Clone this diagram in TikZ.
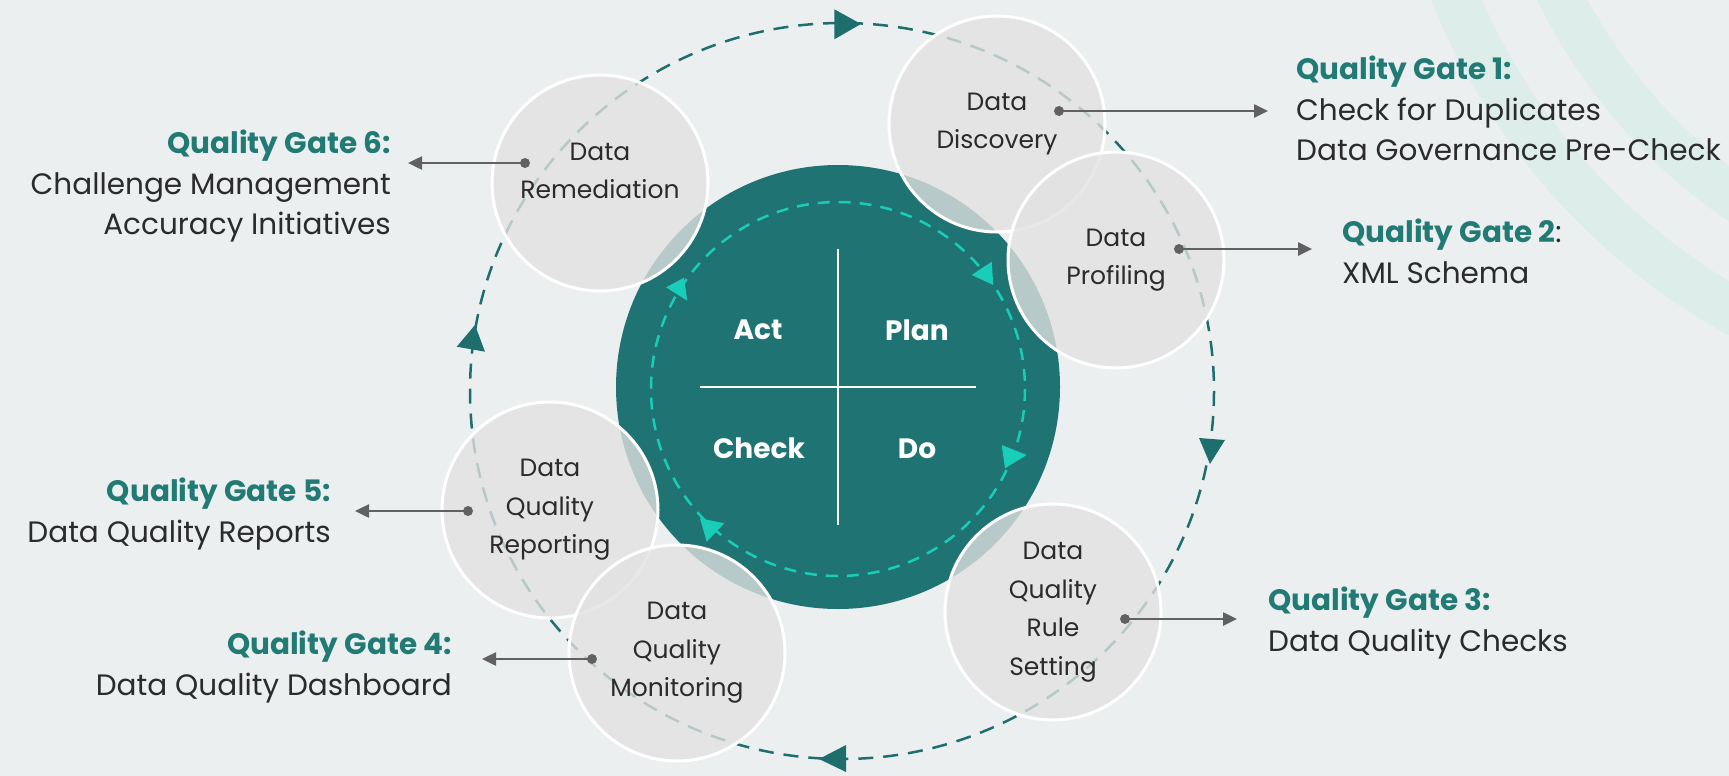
\documentclass[tikz,border=0pt]{standalone}
\usepackage{fontspec}
\setmainfont{Poppins}
\usetikzlibrary{arrows.meta,positioning}
\definecolor{bgcol}{HTML}{ECEFF0}
\definecolor{mintcol}{HTML}{DDEDEA}
\definecolor{tealdisk}{HTML}{1F7373}
\definecolor{tealring}{HTML}{1F6E6E}
\definecolor{cyanring}{HTML}{1ACDB9}
\definecolor{gateteal}{HTML}{217A74}
\definecolor{stagefill}{HTML}{E2E2E2}
\definecolor{textdark}{HTML}{2B2B2B}
\definecolor{arrowgray}{HTML}{616161}
\begin{document}
\begin{tikzpicture}
[x=1pt, y=-1pt,
 stage/.style={circle, draw=white, line width=3pt, fill=stagefill, fill opacity=0.78, text opacity=1,
   minimum size=216pt, inner sep=0pt, align=center, text=textdark, font=\fontsize{25}{38.5}\selectfont},
 gate/.style={inner sep=0pt, text=textdark, font=\fontsize{29.5}{40.5}\selectfont},
 gatearrow/.style={draw=arrowgray, line width=2.5pt, -{Triangle[length=14pt,width=13pt]}},
 dot/.style={circle, fill=arrowgray, minimum size=10pt, inner sep=0pt},
 pdcatext/.style={text=white, font=\fontsize{28}{34}\selectfont\bfseries}]
\fill[bgcol] (0,0) rectangle (1729,776);
\begin{scope}
\clip (0,0) rectangle (1729,776);
\draw[mintcol, line width=47pt] (2050,-250) circle (644);
\draw[mintcol, line width=45pt] (2050,-250) circle (548);
\end{scope}
% outer cycle
\draw[tealring, line width=2.5pt, dash pattern=on 15pt off 10pt] (842,391) ellipse [x radius=372, y radius=368];
\fill[tealring] (834.3,9.3) -- (861,24) -- (834.3,39.3) -- cycle;
\fill[tealring] (1199,438) -- (1225,440) -- (1210,464) -- cycle;
\fill[tealring] (819,759) -- (846,745) -- (846,772) -- cycle;
\fill[tealring] (456.7,346.7) -- (475,325) -- (485,351.7) -- cycle;
% PDCA disk
\node[circle, fill=tealdisk, minimum size=444pt, inner sep=0pt] (pdca) at (838,387) {};
\draw[cyanring, line width=2.5pt, dash pattern=on 12pt off 9pt] (838,389) circle (187);
\fill[cyanring] (971.7,275) -- (991.7,261.7) -- (993.3,285) -- cycle;
\fill[cyanring] (1001.7,445) -- (1026.7,455) -- (1005,468.3) -- cycle;
\fill[cyanring] (700,518.3) -- (724.3,523.3) -- (706.7,541.7) -- cycle;
\fill[cyanring] (666,287.3) -- (684,277.7) -- (687.3,300.7) -- cycle;
\draw[white, line width=2pt] ([yshift=138pt]pdca.center) -- ([yshift=-138pt]pdca.center);
\draw[white, line width=2pt] ([xshift=-138pt]pdca.center) -- ([xshift=138pt]pdca.center);
\node[pdcatext] (act) at (758,330) {Act};
\node[pdcatext] (plan) at (917,330) {Plan};
\node[pdcatext] (check) at (759,448) {Check};
\node[pdcatext] (do) at (917,449) {Do};
% stages
\node[stage] (discovery) at (997,124) {Data\\Discovery};
\node[stage] (profiling) at (1116,260) {Data\\Profiling};
\node[stage] (rules) at (1053,612) {Data\\Quality\\Rule\\Setting};
\node[stage] (reporting) at (550,510) {Data\\Quality\\Reporting};
\node[stage] (monitoring) at (677,653) {Data\\Quality\\Monitoring};
\node[stage, label={[align=center, text=textdark, font=\fontsize{25}{38.5}\selectfont, yshift=12pt]center:{Data\\Remediation}}] (remediation) at (600,183) {};
% quality gates
\node[gate, align=left, anchor=north west] (gate1) at (1296,56) {\textcolor{gateteal}{\bfseries Quality Gate 1:}\\Check for Duplicates\\Data Governance Pre-Check};
\node[gate, align=left, anchor=north west] (gate2) at (1342,219) {\textcolor{gateteal}{\bfseries Quality Gate 2}:\\XML Schema};
\node[gate, align=left, anchor=north west] (gate3) at (1268,587) {\textcolor{gateteal}{\bfseries Quality Gate 3:}\\Data Quality Checks};
\node[gate, align=right, anchor=north east] (gate4) at (452,631) {\textcolor{gateteal}{\bfseries Quality Gate 4:}\\Data Quality Dashboard};
\node[gate, align=right, anchor=north east] (gate5) at (331,478) {\textcolor{gateteal}{\bfseries Quality Gate 5:}\\Data Quality Reports};
\node[gate, align=right, anchor=north east] (gate6) at (391,130) {\textcolor{gateteal}{\bfseries Quality Gate 6:}\\Challenge Management\\Accuracy Initiatives};
\node[dot] (dot1) at (1059,111) {};
\node[dot] (dot2) at (1179,249) {};
\node[dot] (dot3) at (1125,619) {};
\node[dot] (dot4) at (592,659) {};
\node[dot] (dot5) at (468,511) {};
\node[dot] (dot6) at (525,163) {};
\draw[gatearrow, shorten >=28pt] (dot1.center) -- (dot1 -| gate1.west);
\draw[gatearrow, shorten >=30pt] (dot2.center) -- (dot2 -| gate2.west);
\draw[gatearrow, shorten >=31pt] (dot3.center) -- (dot3 -| gate3.west);
\draw[gatearrow, shorten >=30pt] (dot4.center) -- (dot4 -| gate4.east);
\draw[gatearrow, shorten >=24pt] (dot5.center) -- (dot5 -| gate5.east);
\draw[gatearrow, shorten >=17pt] (dot6.center) -- (dot6 -| gate6.east);
\end{tikzpicture}
\end{document}
